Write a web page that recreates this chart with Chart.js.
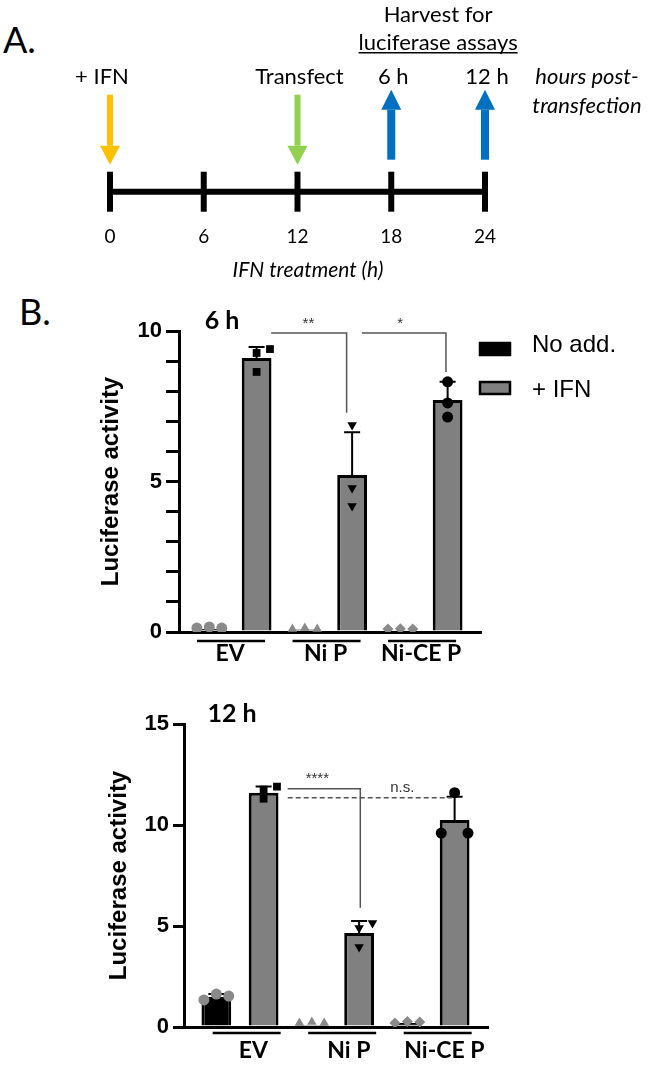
<!DOCTYPE html>
<html>
<head>
<meta charset="utf-8">
<script src="https://cdn.jsdelivr.net/npm/chart.js@4.4.1/dist/chart.umd.min.js"></script>
<style>
	body { margin: 0; background: #fff; width: 650px; height: 1070px; position: relative; overflow: hidden; }
	canvas { position: absolute; left: 0; }
	.painel { position: absolute; font-family: Lato, sans-serif; font-size: 36px; line-height: 36px; color: #000; }
</style>
</head>
<body>
<div class="painel" style="left:3px;top:21px">A.</div>
<div class="painel" style="left:19px;top:293px">B.</div>
<canvas id="timeline" width="650" height="295" style="top:0"></canvas>
<canvas id="chart6h" width="650" height="395" style="top:295px"></canvas>
<canvas id="chart12h" width="650" height="380" style="top:690px"></canvas>
<script>
// Panel A: timeline
const timelineHours = [0, 6, 12, 18, 24];
const eventHours = [0, 12, 18, 24];
const eventLabels = ["+ IFN", "Transfect", "6 h", "12 h"];
const eventDirections = ["down", "down", "up", "up"];
const eventColors = ["#FFC000", "#92D050", "#0070C0", "#0070C0"];

// Panel B: groups and series
const groups = ["EV", "Ni P", "Ni-CE P"];
const seriesLabels = ["No add.", "+ IFN"];
const noAddMarkers = ["circle", "triangle", "rectRot"];
const ifnMarkers = ["rect", "triangle", "circle"];
const ifnMarkerRotation = [0, 180, 0];

// 6 h
const noAdd6h = [0.1, 0.08, 0.06];
const ifn6h = [9.1, 5.22, 7.71];
const noAddErrTop6h = [null, null, null];
const ifnErrTop6h = [9.47, 6.64, 8.31];
const noAddPoints6h = [[0.13, 0.17, 0.13], [0.1, 0.13, 0.1], [0.1, 0.11, 0.1]];
const ifnPoints6h = [[9.27, 9.4, 8.64], [6.88, 4.78, 4.19], [8.31, 7.61, 7.14]];
const yTicks6h = [0, 1, 2, 3, 4, 5, 6, 7, 8, 9, 10];
const sigLabels6h = ["**", "*"];
const sigFrom6h = [1.4, 2.35];
const sigTo6h = [2.19, 3.23];
const sigLevel6h = [9.93, 9.93];
const sigDrop6h = [7.28, 8.64];
const sigTextAt6h = [1.79, 2.75];

// 12 h
const noAdd12h = [1.49, 0.1, 0.2];
const ifn12h = [11.6, 4.65, 10.25];
const noAddErrTop12h = [1.63, null, null];
const ifnErrTop12h = [11.9, 5.25, 11.4];
const noAddPoints12h = [[1.34, 1.63, 1.53], [0.2, 0.25, 0.2], [0.2, 0.27, 0.25]];
const ifnPoints12h = [[11.75, 11.9, 11.3], [4.9, 5.15, 3.96], [11.6, 9.6, 9.6]];
const yTicks12h = [0, 5, 10, 15];
const sigLabels12h = ["****", "n.s."];
const sigFrom12h = [1.5, 1.5];
const sigTo12h = [2.26, 3.22];
const sigLevel12h = [11.8, 11.35];
const sigDrop12h = [5.9, null];
const sigTextAt12h = [1.81, 2.7];

// replicate spread inside a bar (x units)
const noAddSpread = [[-0.13, 0, 0.13], [-0.13, 0, 0.13], [-0.13, 0, 0.13]];
const ifnSpread6h = [[0, 0.14, 0], [0, 0, 0], [0, 0, 0]];
const ifnSpread12h = [[0, 0.14, 0], [0, 0.14, 0], [0, -0.14, 0.14]];

const BAR_SHIFT = 0.2475;
const GREY = "#808080";

// Timeline arrows and labels
const eventArrows = {
	id: "eventArrows",
	afterDraw(chart) {
		const { ctx } = chart;
		const x = chart.scales.x;
		const yLine = chart.scales.y.getPixelForValue(0);
		ctx.save();
		eventHours.forEach((h, i) => {
			const px = x.getPixelForValue(h);
			const down = eventDirections[i] === "down";
			const tail = down ? yLine - 97 : yLine - 32;
			const tip = down ? yLine - 27 : yLine - 102;
			const head = down ? tip - 19 : tip + 20;
			ctx.strokeStyle = eventColors[i];
			ctx.fillStyle = eventColors[i];
			ctx.lineWidth = down ? 6 : 8;
			ctx.beginPath();
			ctx.moveTo(px, tail);
			ctx.lineTo(px, head);
			ctx.stroke();
			ctx.beginPath();
			ctx.moveTo(px - 10, head);
			ctx.lineTo(px + 10, head);
			ctx.lineTo(px, tip);
			ctx.closePath();
			ctx.fill();

			ctx.fillStyle = "#000";
			ctx.font = "22px Lato";
			ctx.textAlign = "center";
			ctx.textBaseline = "middle";
			ctx.fillText(eventLabels[i], px + (i === 0 ? -8 : 2), yLine - 115);
		});

		const mid = (x.getPixelForValue(18) + x.getPixelForValue(24)) / 2;
		ctx.fillText("Harvest for", mid, yLine - 177);
		ctx.fillText("luciferase assays", mid, yLine - 149);
		const w = ctx.measureText("luciferase assays").width;
		ctx.lineWidth = 1.5;
		ctx.strokeStyle = "#000";
		ctx.beginPath();
		ctx.moveTo(mid - w / 2, yLine - 139);
		ctx.lineTo(mid + w / 2, yLine - 139);
		ctx.stroke();

		ctx.font = "italic 22px Lato";
		const right = x.getPixelForValue(24) + 102;
		ctx.fillText("hours post-", right, yLine - 115);
		ctx.fillText("transfection", right, yLine - 86);
		ctx.restore();
	}
};

new Chart(document.getElementById("timeline"), {
	type: "scatter",
	data: {
		datasets: [
			{
				data: timelineHours.map((h) => ({ x: h, y: 0 })),
				showLine: true,
				borderColor: "#000",
				borderWidth: 6,
				pointStyle: "line",
				pointRotation: 90,
				pointRadius: 20,
				pointBorderWidth: 6,
				pointBorderColor: "#000",
				clip: false
			}
		]
	},
	options: {
		responsive: false,
		animation: false,
		events: [],
		layout: { autoPadding: false, padding: { left: 0, right: 34, top: 0, bottom: 0 } },
		scales: {
			x: {
				type: "linear",
				min: -7.04,
				max: 32.384,
				afterBuildTicks: (s) => {
					s.ticks = timelineHours.map((v) => ({ value: v }));
				},
				afterFit: (s) => {
					s.height = 82;
				},
				grid: { display: false, drawTicks: false },
				border: { display: false },
				ticks: { padding: 12, color: "#000", font: { family: "Lato", size: 19 } },
				title: {
					display: true,
					text: "IFN treatment (h)",
					color: "#000",
					font: { family: "Lato", size: 21, style: "italic" },
					padding: { top: 0, bottom: 12 }
				}
			},
			y: { display: false, min: -1, max: 9 }
		},
		plugins: { legend: { display: false }, tooltip: { enabled: false } }
	},
	plugins: [eventArrows]
});

// Error bars (upper SD only)
const errorBars = {
	id: "errorBars",
	afterDatasetDraw(chart, args) {
		const ds = chart.data.datasets[args.index];
		if (!ds.errTop) return;
		const { ctx } = chart;
		const y = chart.scales.y;
		ctx.save();
		ctx.strokeStyle = "#000";
		ctx.lineWidth = 2;
		args.meta.data.forEach((bar, i) => {
			const top = ds.errTop[i];
			if (top == null) return;
			const py = y.getPixelForValue(top);
			ctx.beginPath();
			ctx.moveTo(bar.x, bar.y);
			ctx.lineTo(bar.x, py);
			ctx.moveTo(bar.x - 8, py);
			ctx.lineTo(bar.x + 8, py);
			ctx.stroke();
		});
		ctx.restore();
	}
};

// Significance brackets, group underlines, panel title, legend
const annotations = {
	id: "annotations",
	afterDraw(chart, args, o) {
		const { ctx, chartArea } = chart;
		const x = chart.scales.x;
		const y = chart.scales.y;
		ctx.save();

		o.sigLabels.forEach((txt, i) => {
			const x1 = x.getPixelForValue(o.sigFrom[i]);
			const x2 = x.getPixelForValue(o.sigTo[i]);
			const py = y.getPixelForValue(o.sigLevel[i]);
			ctx.strokeStyle = "#555";
			ctx.lineWidth = 1.5;
			ctx.setLineDash(o.sigDrop[i] == null ? [5, 3] : []);
			ctx.beginPath();
			ctx.moveTo(x1, py);
			ctx.lineTo(x2, py);
			if (o.sigDrop[i] != null) ctx.lineTo(x2, y.getPixelForValue(o.sigDrop[i]));
			ctx.stroke();
			ctx.setLineDash([]);
			ctx.fillStyle = "#333";
			ctx.font = "15px 'Liberation Sans'";
			ctx.textAlign = "center";
			ctx.textBaseline = "bottom";
			ctx.fillText(txt, x.getPixelForValue(o.sigTextAt[i]), py - 2);
		});

		ctx.strokeStyle = "#000";
		ctx.lineWidth = 2.5;
		groups.forEach((g, i) => {
			const cx = x.getPixelForValue(i + 1 + o.lineShift);
			const ly = chartArea.bottom + o.lineGap;
			ctx.beginPath();
			ctx.moveTo(cx - 34, ly);
			ctx.lineTo(cx + 34, ly);
			ctx.stroke();
		});

		ctx.fillStyle = "#000";
		ctx.font = "bold 25px Lato";
		ctx.textAlign = "center";
		ctx.textBaseline = "middle";
		ctx.fillText(o.title, chartArea.left + o.titleDx, chartArea.top - 10);

		if (o.legend) {
			chart.data.datasets.slice(0, 2).forEach((ds, i) => {
				const by = chartArea.top + 18 + i * 39;
				ctx.fillStyle = ds.backgroundColor;
				ctx.fillRect(chartArea.right - 1, by - 6, 30, 12);
				ctx.lineWidth = 2.5;
				ctx.strokeStyle = "#000";
				ctx.strokeRect(chartArea.right - 1, by - 6, 30, 12);
				ctx.fillStyle = "#000";
				ctx.font = "24px 'Liberation Sans'";
				ctx.textAlign = "left";
				ctx.fillText(ds.label, chartArea.right + 51, chartArea.top + 14 + i * 45);
			});
		}
		ctx.restore();
	}
};

function barData(values) {
	return values.map((v, i) => ({ x: i + 1, y: v }));
}

function pointData(points, spread, side) {
	return points.flatMap((vals, g) =>
		vals.map((v, k) => ({ x: g + 1 + side * BAR_SHIFT + spread[g][k], y: v }))
	);
}

function perPoint(points, list) {
	return points.flatMap((vals, g) => vals.map(() => list[g]));
}

function buildBarChart(id, c) {
	return new Chart(document.getElementById(id), {
		type: "bar",
		data: {
			datasets: [
				{
					label: seriesLabels[0],
					data: barData(c.noAdd),
					errTop: c.noAddErr,
					backgroundColor: "#000",
					borderColor: "#000",
					borderWidth: 3,
					categoryPercentage: 0.99,
					barPercentage: 0.63,
					order: 2
				},
				{
					label: seriesLabels[1],
					data: barData(c.ifn),
					errTop: c.ifnErr,
					backgroundColor: GREY,
					borderColor: "#000",
					borderWidth: 3,
					categoryPercentage: 0.99,
					barPercentage: 0.63,
					order: 2
				},
				{
					type: "scatter",
					data: pointData(c.noAddPoints, noAddSpread, -1),
					pointStyle: perPoint(c.noAddPoints, noAddMarkers),
					pointRadius: 5.5,
					pointBorderWidth: 0,
					backgroundColor: "#8a8a8a",
					order: 1
				},
				{
					type: "scatter",
					data: pointData(c.ifnPoints, c.ifnSpread, 1),
					pointStyle: perPoint(c.ifnPoints, ifnMarkers),
					pointRotation: perPoint(c.ifnPoints, ifnMarkerRotation),
					pointRadius: 5.5,
					pointBorderWidth: 0,
					backgroundColor: "#000",
					order: 1
				}
			]
		},
		options: {
			responsive: false,
			animation: false,
			events: [],
			layout: { autoPadding: false, padding: { left: 0, right: c.padRight, top: c.padTop, bottom: 0 } },
			scales: {
				x: {
					type: "linear",
					offset: false,
					min: c.xMin,
					max: c.xMax,
					afterBuildTicks: (s) => {
						s.ticks = groups.map((g, i) => ({ value: i + 1 + c.labelShift }));
					},
					afterFit: (s) => {
						s.height = c.xAxisHeight;
					},
					grid: { display: false, drawTicks: false, offset: false },
					border: { color: "#000", width: 3 },
					ticks: {
						padding: c.labelPad,
						autoSkip: false,
						maxRotation: 0,
						color: "#000",
						font: { family: "Lato", weight: "bold", size: 23 },
						callback: (v, i) => groups[i]
					}
				},
				y: {
					min: 0,
					max: c.yTicks[c.yTicks.length - 1],
					afterBuildTicks: (s) => {
						s.ticks = c.yTicks.map((v) => ({ value: v }));
					},
					afterFit: (s) => {
						s.width = c.yAxisWidth;
					},
					grid: { drawOnChartArea: false, color: "#000", lineWidth: 3, tickLength: c.tickLength },
					border: { color: "#000", width: 3 },
					ticks: {
						padding: 4,
						color: "#000",
						font: { family: "'Liberation Sans'", weight: "bold", size: 22 },
						callback: (v) => (v % 5 === 0 ? v : "")
					},
					title: {
						display: true,
						text: "Luciferase activity",
						color: "#000",
						font: { family: "'Liberation Sans'", weight: "bold", size: 24 },
						padding: { top: c.titlePad, bottom: 0 }
					}
				}
			},
			plugins: {
				legend: { display: false },
				tooltip: { enabled: false },
				annotations: {
					sigLabels: c.sigLabels,
					sigFrom: c.sigFrom,
					sigTo: c.sigTo,
					sigLevel: c.sigLevel,
					sigDrop: c.sigDrop,
					sigTextAt: c.sigTextAt,
					lineShift: c.lineShift,
					lineGap: c.lineGap,
					title: c.title,
					titleDx: c.titleDx,
					legend: c.legend
				}
			}
		},
		plugins: [errorBars, annotations]
	});
}

buildBarChart("chart6h", {
	noAdd: noAdd6h,
	ifn: ifn6h,
	noAddErr: noAddErrTop6h,
	ifnErr: ifnErrTop6h,
	noAddPoints: noAddPoints6h,
	ifnPoints: ifnPoints6h,
	ifnSpread: ifnSpread6h,
	yTicks: yTicks6h,
	sigLabels: sigLabels6h,
	sigFrom: sigFrom6h,
	sigTo: sigTo6h,
	sigLevel: sigLevel6h,
	sigDrop: sigDrop6h,
	sigTextAt: sigTextAt6h,
	xMin: 0.435,
	xMax: 3.597,
	padTop: 36,
	padRight: 169,
	yAxisWidth: 179,
	xAxisHeight: 58,
	tickLength: 13,
	titlePad: 97,
	labelPad: 8,
	labelShift: -0.03,
	lineShift: -0.02,
	lineGap: 9,
	title: "6 h",
	titleDx: 43,
	legend: true
});

buildBarChart("chart12h", {
	noAdd: noAdd12h,
	ifn: ifn12h,
	noAddErr: noAddErrTop12h,
	ifnErr: ifnErrTop12h,
	noAddPoints: noAddPoints12h,
	ifnPoints: ifnPoints12h,
	ifnSpread: ifnSpread12h,
	yTicks: yTicks12h,
	sigLabels: sigLabels12h,
	sigFrom: sigFrom12h,
	sigTo: sigTo12h,
	sigLevel: sigLevel12h,
	sigDrop: sigDrop12h,
	sigTextAt: sigTextAt12h,
	xMin: 0.414,
	xMax: 3.597,
	padTop: 34,
	padRight: 162,
	yAxisWidth: 184,
	xAxisHeight: 43,
	tickLength: 11,
	titlePad: 105,
	labelPad: 10,
	labelShift: 0.14,
	lineShift: 0.07,
	lineGap: 6,
	title: "12 h",
	titleDx: 48,
	legend: false
});
</script>
</body>
</html>
